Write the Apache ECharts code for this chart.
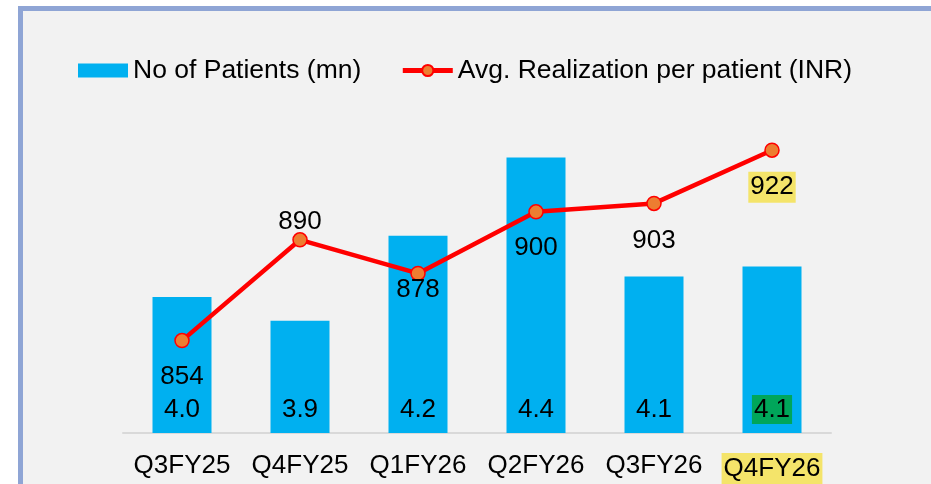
<!DOCTYPE html>
<html>
<head>
<meta charset="utf-8">
<script src="https://cdn.jsdelivr.net/npm/echarts@6/dist/echarts.min.js"></script>
<style>
  html, body { margin: 0; padding: 0; background: #fff; }
  .frame {
    position: absolute;
    left: 18px;
    top: 6px;
    width: 913px;
    height: 478px;
    border-left: 5px solid #8FA5D5;
    border-top: 5px solid #8FA5D5;
    box-sizing: border-box;
    background: #F2F2F2;
  }
  .chart-box { width: 908px; height: 473px; }
</style>
</head>
<body>
<div class="frame"><div class="chart-box" id="chart"></div></div>
<script>
// data
const quarters = ['Q3FY25', 'Q4FY25', 'Q1FY26', 'Q2FY26', 'Q3FY26', 'Q4FY26']
const patients = [4.0, 3.93, 4.18, 4.41, 4.06, 4.09]
const realization = [854, 890, 878, 900, 903, 922]

// label offsets for the line (center of label relative to point)
const lineLabelOffsets = [36, -18, 16, 36, 37, 37]
const last = quarters.length - 1

const chart = echarts.init(document.getElementById('chart'))

const option = {
  animation: false,
  textStyle: { fontFamily: 'Liberation Sans, Arial, sans-serif' },
  legend: {
    left: 50,
    top: 41,
    itemWidth: 50,
    itemHeight: 14,
    itemGap: 39,
    textStyle: { fontSize: 26.5, color: '#000' },
    data: [
      { name: 'No of Patients (mn)', icon: 'rect' },
      { name: 'Avg. Realization per patient (INR)', lineStyle: { width: 5 } }
    ]
  },
  grid: { left: 100, top: 86, width: 708, height: 336 },
  xAxis: {
    type: 'category',
    data: quarters,
    axisLine: { lineStyle: { color: '#D9D9D9', width: 2 } },
    axisTick: { show: false },
    axisLabel: {
      interval: 0,
      fontSize: 26,
      color: '#000',
      margin: 20,
      formatter: (v, i) => i === last ? '{hl|' + v + '}' : v,
      rich: {
        hl: { fontSize: 26, color: '#000', backgroundColor: '#F4E46A', padding: [3, 2, 2, 2] }
      }
    }
  },
  yAxis: [
    { type: 'value', min: 3.6, max: 3.6 + 336 / 340, show: false },
    { type: 'value', min: 821, max: 941, show: false }
  ],
  series: [
    {
      name: 'No of Patients (mn)',
      type: 'bar',
      barWidth: '50%',
      yAxisIndex: 0,
      itemStyle: { color: '#00B0F0' },
      data: patients.map((v, i) => ({
        value: v,
        label: i === last ? { backgroundColor: '#00A65A' } : {}
      })),
      label: {
        show: true,
        position: 'insideBottom',
        distance: 9,
        fontSize: 26,
        color: '#000',
        padding: [2, 2, 1, 2],
        formatter: p => p.value.toFixed(1)
      }
    },
    {
      name: 'Avg. Realization per patient (INR)',
      type: 'line',
      yAxisIndex: 1,
      z: 5,
      symbol: 'circle',
      symbolSize: 14,
      lineStyle: { color: '#FF0000', width: 4.5 },
      itemStyle: { color: '#ED7D31', borderColor: '#FF0000', borderWidth: 1.5 },
      data: realization.map((v, i) => ({
        value: v,
        label: Object.assign(
          { offset: [0, lineLabelOffsets[i]] },
          i === last ? { backgroundColor: '#F4E46A', padding: [3, 2, 2, 2] } : {}
        )
      })),
      label: {
        show: true,
        position: 'inside',
        fontSize: 26,
        color: '#000'
      }
    }
  ]
}

chart.setOption(option)
window.addEventListener('resize', () => {
  chart.resize()
})
</script>
</body>
</html>
